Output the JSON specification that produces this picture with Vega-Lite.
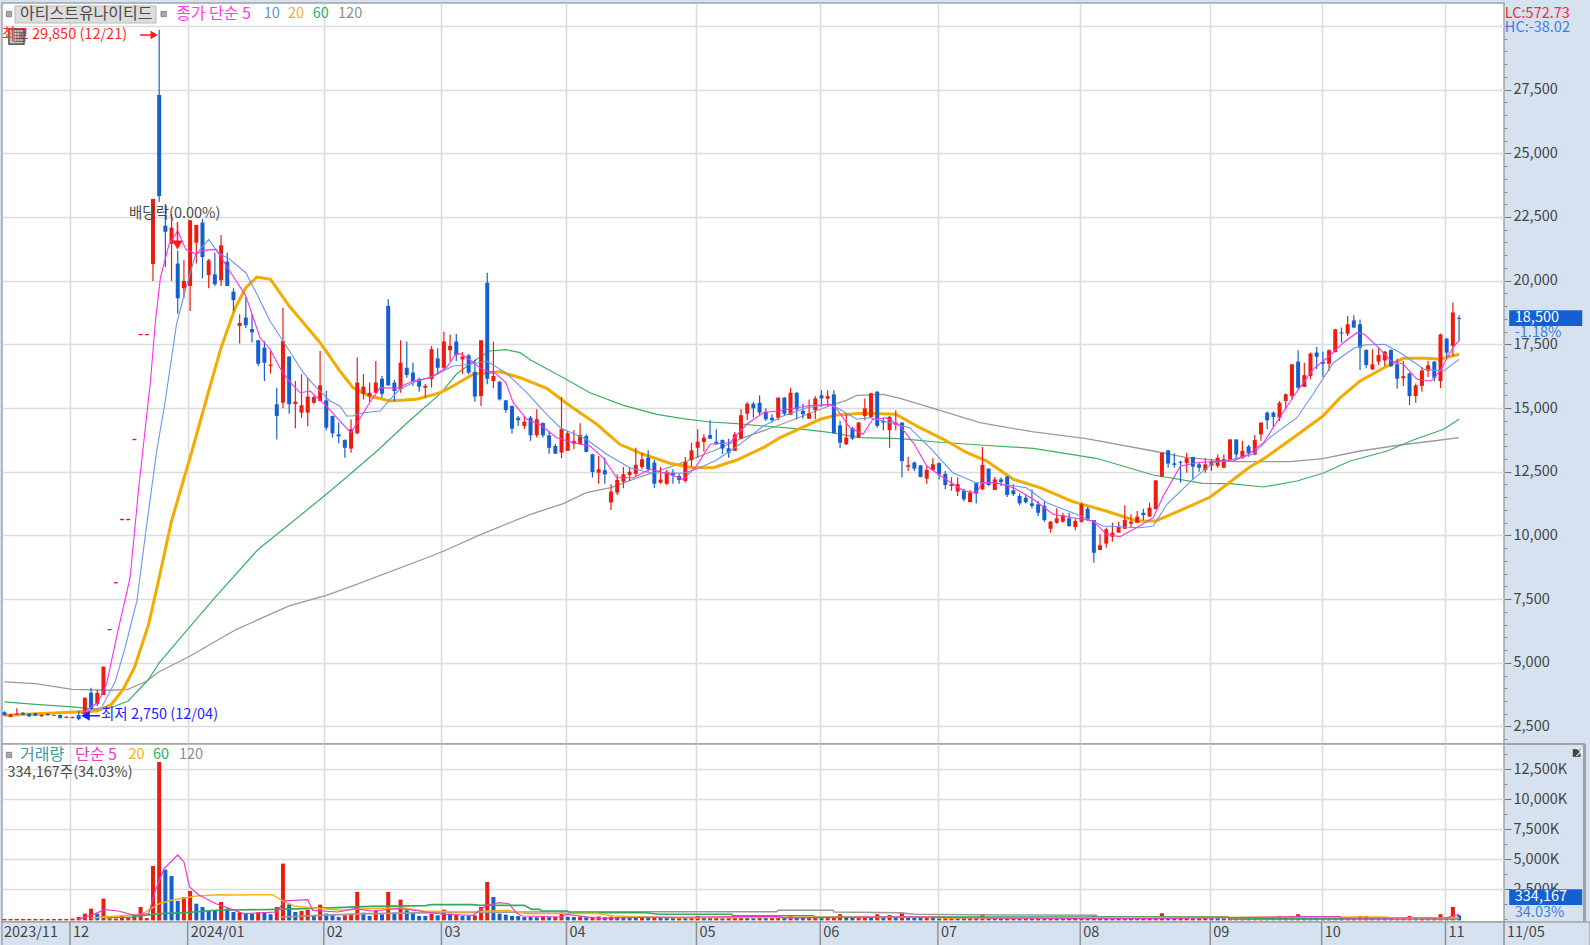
{"$schema":"https://vega.github.io/schema/vega-lite/v6.json","background":"#d6e2f0","padding":{"left":-3,"top":2,"right":0,"bottom":0},"spacing":0,"bounds":"flush","config":{"view":{"stroke":"#a3a3a3","strokeWidth":1.5,"fill":"#ffffff"},"text":{"font":"Liberation Sans Narrow, Noto Sans CJK KR"},"axis":{"labelFont":"Liberation Sans Narrow, Noto Sans CJK KR"}},
"datasets":{
"days":[
{"i":-11,"o":3060,"h":3100,"l":2920,"c":2940,"d":"down","k":30,"vd":"up"},{"i":-10,"o":2880,"h":2990,"l":2860,"c":2970,"d":"up","k":30,"vd":"up"},{"i":-9,"o":2960,"h":3220,"l":2950,"c":3000,"d":"up","k":40,"vd":"up"},{"i":-8,"o":3040,"h":3060,"l":2950,"c":2970,"d":"down","k":30,"vd":"up"},{"i":-7,"o":3000,"h":3020,"l":2860,"c":2900,"d":"down","k":30,"vd":"up"},{"i":-6,"o":3020,"h":3040,"l":2910,"c":2920,"d":"down","k":30,"vd":"up"},{"i":-5,"o":2900,"h":2980,"l":2880,"c":2960,"d":"up","k":25,"vd":"up"},{"i":-4,"o":3000,"h":3010,"l":2930,"c":2940,"d":"down","k":25,"vd":"up"},{"i":-3,"o":2920,"h":2970,"l":2910,"c":2950,"d":"up","k":25,"vd":"up"},{"i":-2,"o":2950,"h":2970,"l":2810,"c":2830,"d":"down","k":30,"vd":"up"},{"i":-1,"o":2840,"h":2900,"l":2820,"c":2880,"d":"up","k":30,"vd":"up"},{"i":0,"o":2830,"h":2890,"l":2820,"c":2870,"d":"up","k":60,"vd":"up"},
{"i":1,"o":2950,"h":3120,"l":2750,"c":2790,"d":"down","k":195,"vd":"up"},{"i":2,"o":2990,"h":3630,"l":2950,"c":3630,"d":"up","k":470,"vd":"up"},{"i":3,"o":3830,"h":4020,"l":3150,"c":3190,"d":"down","k":890,"vd":"up"},{"i":4,"o":3380,"h":3940,"l":3300,"c":3820,"d":"up","k":470,"vd":"down"},{"i":5,"o":3740,"h":4850,"l":3740,"c":4850,"d":"up","k":1720,"vd":"up"},{"i":6,"o":6280,"h":6330,"l":6280,"c":6330,"d":"up","k":80,"vd":"up"},{"i":7,"o":8120,"h":8170,"l":8120,"c":8170,"d":"up","k":60,"vd":"up"},{"i":8,"o":10600,"h":10650,"l":10600,"c":10650,"d":"up","k":330,"vd":"up"},{"i":9,"o":10600,"h":10650,"l":10600,"c":10650,"d":"up","k":130,"vd":"up"},{"i":10,"o":13740,"h":13790,"l":13740,"c":13790,"d":"up","k":416,"vd":"up"},{"i":11,"o":17860,"h":17910,"l":17860,"c":17910,"d":"up","k":1030,"vd":"up"},{"i":12,"o":17860,"h":17910,"l":17860,"c":17910,"d":"up","k":100,"vd":"up"},{"i":13,"o":20650,"h":23210,"l":19990,"c":23210,"d":"up","k":4440,"vd":"up"},{"i":14,"o":27290,"h":29850,"l":23090,"c":23320,"d":"down","k":13110,"vd":"up"},{"i":15,"o":22160,"h":23010,"l":20540,"c":21920,"d":"down","k":4140,"vd":"down"},{"i":16,"o":21450,"h":22620,"l":19990,"c":22080,"d":"up","k":3610,"vd":"down"},{"i":17,"o":20670,"h":21170,"l":18700,"c":19310,"d":"down","k":1530,"vd":"down"},{"i":18,"o":19700,"h":20800,"l":19310,"c":19990,"d":"up","k":1860,"vd":"up"},{"i":19,"o":19790,"h":22370,"l":18810,"c":22370,"d":"up","k":2360,"vd":"up"},{"i":20,"o":21490,"h":22190,"l":20670,"c":22190,"d":"up","k":1300,"vd":"down"},{"i":21,"o":22280,"h":22420,"l":20090,"c":20930,"d":"down","k":1030,"vd":"down"},{"i":22,"o":20220,"h":20850,"l":19700,"c":20800,"d":"up","k":690,"vd":"down"},{"i":23,"o":20250,"h":21100,"l":19790,"c":19860,"d":"down","k":690,"vd":"down"},{"i":24,"o":20020,"h":21790,"l":19790,"c":21390,"d":"up","k":1440,"vd":"up"},{"i":25,"o":20750,"h":21100,"l":19790,"c":19790,"d":"down","k":890,"vd":"down"},{"i":26,"o":19570,"h":19700,"l":18810,"c":19240,"d":"down","k":610,"vd":"down"},{"i":27,"o":18220,"h":18680,"l":17530,"c":18340,"d":"up","k":580,"vd":"up"},{"i":28,"o":18550,"h":19360,"l":18130,"c":18250,"d":"down","k":470,"vd":"down"},{"i":29,"o":18100,"h":18680,"l":17570,"c":17970,"d":"down","k":470,"vd":"down"},{"i":30,"o":17660,"h":17660,"l":16650,"c":16740,"d":"down","k":580,"vd":"up"},{"i":31,"o":17370,"h":17630,"l":16060,"c":16780,"d":"down","k":610,"vd":"down"},{"i":32,"o":16650,"h":17240,"l":16350,"c":16700,"d":"up","k":420,"vd":"down"},{"i":33,"o":15150,"h":15800,"l":13770,"c":14690,"d":"down","k":1030,"vd":"up"},{"i":34,"o":15210,"h":18940,"l":14990,"c":17630,"d":"up","k":4640,"vd":"up"},{"i":35,"o":17020,"h":17030,"l":14780,"c":15150,"d":"down","k":1250,"vd":"down"},{"i":36,"o":15160,"h":16060,"l":14210,"c":15250,"d":"up","k":610,"vd":"down"},{"i":37,"o":14820,"h":16330,"l":14620,"c":15110,"d":"up","k":690,"vd":"up"},{"i":38,"o":14820,"h":16190,"l":14300,"c":15450,"d":"up","k":800,"vd":"up"},{"i":39,"o":15210,"h":15500,"l":15150,"c":15430,"d":"up","k":280,"vd":"down"},{"i":40,"o":15280,"h":17240,"l":15280,"c":15890,"d":"up","k":1220,"vd":"up"},
{"i":41,"o":15300,"h":15670,"l":14130,"c":14230,"d":"down","k":470,"vd":"down"},{"i":42,"o":14690,"h":14700,"l":13840,"c":14010,"d":"down","k":420,"vd":"down"},{"i":43,"o":13970,"h":14430,"l":13620,"c":13890,"d":"down","k":190,"vd":"down"},{"i":44,"o":13750,"h":13770,"l":13050,"c":13440,"d":"down","k":330,"vd":"up"},{"i":45,"o":13410,"h":14560,"l":13250,"c":14170,"d":"up","k":470,"vd":"up"},{"i":46,"o":14010,"h":16980,"l":13970,"c":16000,"d":"up","k":2280,"vd":"up"},{"i":47,"o":15560,"h":16330,"l":15340,"c":15840,"d":"up","k":555,"vd":"down"},{"i":48,"o":15470,"h":16000,"l":15250,"c":15600,"d":"up","k":280,"vd":"down"},{"i":49,"o":15600,"h":16850,"l":15600,"c":16000,"d":"up","k":690,"vd":"up"},{"i":50,"o":16150,"h":16260,"l":15410,"c":15560,"d":"down","k":420,"vd":"down"},{"i":51,"o":19010,"h":19270,"l":15880,"c":15890,"d":"down","k":2280,"vd":"up"},{"i":52,"o":16000,"h":16100,"l":15280,"c":15670,"d":"down","k":555,"vd":"down"},{"i":53,"o":15740,"h":17660,"l":15600,"c":16780,"d":"up","k":1640,"vd":"up"},{"i":54,"o":16580,"h":17610,"l":16190,"c":16300,"d":"down","k":750,"vd":"down"},{"i":55,"o":16390,"h":16780,"l":15870,"c":16040,"d":"down","k":530,"vd":"down"},{"i":56,"o":16130,"h":16190,"l":15640,"c":15840,"d":"down","k":280,"vd":"down"},{"i":57,"o":15800,"h":15940,"l":15400,"c":15870,"d":"up","k":280,"vd":"down"},{"i":58,"o":16130,"h":17440,"l":15800,"c":17310,"d":"up","k":470,"vd":"up"},{"i":59,"o":16950,"h":17350,"l":16330,"c":16580,"d":"down","k":330,"vd":"down"},
{"i":60,"o":16580,"h":18000,"l":16460,"c":17610,"d":"up","k":800,"vd":"up"},{"i":61,"o":17270,"h":17890,"l":16850,"c":17440,"d":"up","k":470,"vd":"down"},{"i":62,"o":17610,"h":17920,"l":16850,"c":17080,"d":"down","k":390,"vd":"up"},{"i":63,"o":16910,"h":17200,"l":16330,"c":17020,"d":"up","k":280,"vd":"down"},{"i":64,"o":17070,"h":17120,"l":16330,"c":16390,"d":"down","k":280,"vd":"down"},{"i":65,"o":16420,"h":16910,"l":15250,"c":15450,"d":"down","k":330,"vd":"up"},{"i":66,"o":15470,"h":17660,"l":15080,"c":17660,"d":"up","k":1030,"vd":"up"},{"i":67,"o":19920,"h":20310,"l":15930,"c":16150,"d":"down","k":3110,"vd":"up"},{"i":68,"o":16060,"h":17610,"l":15780,"c":16260,"d":"up","k":1860,"vd":"down"},{"i":69,"o":16040,"h":16050,"l":15300,"c":15340,"d":"down","k":470,"vd":"down"},{"i":70,"o":15300,"h":15320,"l":14820,"c":14920,"d":"down","k":390,"vd":"down"},{"i":71,"o":15080,"h":15100,"l":13990,"c":14190,"d":"down","k":280,"vd":"down"},{"i":72,"o":14620,"h":14690,"l":14300,"c":14520,"d":"down","k":280,"vd":"down"},{"i":73,"o":14300,"h":14690,"l":14190,"c":14460,"d":"up","k":190,"vd":"down"},{"i":74,"o":14620,"h":14690,"l":13710,"c":13930,"d":"down","k":190,"vd":"down"},{"i":75,"o":13930,"h":14950,"l":13840,"c":14560,"d":"up","k":170,"vd":"down"},{"i":76,"o":14410,"h":14430,"l":13840,"c":13930,"d":"down","k":200,"vd":"up"},{"i":77,"o":13930,"h":14100,"l":13210,"c":13440,"d":"down","k":180,"vd":"down"},{"i":78,"o":13510,"h":13600,"l":13200,"c":13210,"d":"down","k":210,"vd":"up"},{"i":79,"o":13250,"h":15430,"l":13030,"c":14170,"d":"up","k":555,"vd":"up"},
{"i":80,"o":13320,"h":14100,"l":13320,"c":14010,"d":"up","k":220,"vd":"down"},{"i":81,"o":13600,"h":14130,"l":13380,"c":13710,"d":"up","k":190,"vd":"down"},{"i":82,"o":13580,"h":14400,"l":13580,"c":13940,"d":"up","k":210,"vd":"up"},{"i":83,"o":13900,"h":13970,"l":13270,"c":13280,"d":"down","k":170,"vd":"down"},{"i":84,"o":13190,"h":13190,"l":12270,"c":12490,"d":"down","k":200,"vd":"up"},{"i":85,"o":12460,"h":13120,"l":12030,"c":12600,"d":"up","k":230,"vd":"up"},{"i":86,"o":12560,"h":13050,"l":12030,"c":12400,"d":"down","k":180,"vd":"down"},{"i":87,"o":11290,"h":12010,"l":11000,"c":11720,"d":"up","k":220,"vd":"up"},{"i":88,"o":11680,"h":12400,"l":11590,"c":12180,"d":"up","k":200,"vd":"down"},{"i":89,"o":12110,"h":12690,"l":11850,"c":12400,"d":"up","k":190,"vd":"down"},{"i":90,"o":12370,"h":12690,"l":12140,"c":12500,"d":"up","k":170,"vd":"down"},{"i":91,"o":12420,"h":13440,"l":12330,"c":12770,"d":"up","k":150,"vd":"down"},{"i":92,"o":12690,"h":13250,"l":12600,"c":12990,"d":"up","k":190,"vd":"up"},{"i":93,"o":13050,"h":13340,"l":12500,"c":12600,"d":"down","k":130,"vd":"down"},{"i":94,"o":12860,"h":12960,"l":11870,"c":12030,"d":"down","k":170,"vd":"up"},{"i":95,"o":12070,"h":12690,"l":12030,"c":12190,"d":"up","k":150,"vd":"down"},{"i":96,"o":12030,"h":12570,"l":11980,"c":12500,"d":"up","k":140,"vd":"down"},{"i":97,"o":12460,"h":12600,"l":12030,"c":12360,"d":"down","k":110,"vd":"down"},{"i":98,"o":12330,"h":12410,"l":12030,"c":12180,"d":"down","k":130,"vd":"up"},{"i":99,"o":12140,"h":13080,"l":12070,"c":12880,"d":"up","k":120,"vd":"down"},{"i":100,"o":12960,"h":13640,"l":12690,"c":13340,"d":"up","k":140,"vd":"up"},
{"i":101,"o":13440,"h":14170,"l":13050,"c":13680,"d":"up","k":280,"vd":"up"},{"i":102,"o":13670,"h":13970,"l":13280,"c":13840,"d":"up","k":120,"vd":"down"},{"i":103,"o":13940,"h":14520,"l":13790,"c":13800,"d":"down","k":100,"vd":"down"},{"i":104,"o":13680,"h":14170,"l":13570,"c":13580,"d":"down","k":120,"vd":"up"},{"i":105,"o":13750,"h":13760,"l":13190,"c":13410,"d":"down","k":90,"vd":"down"},{"i":106,"o":13420,"h":13800,"l":13050,"c":13250,"d":"down","k":110,"vd":"up"},{"i":107,"o":13320,"h":14060,"l":13320,"c":13970,"d":"up","k":120,"vd":"up"},{"i":108,"o":13800,"h":14950,"l":13800,"c":14720,"d":"up","k":330,"vd":"up"},{"i":109,"o":14780,"h":15240,"l":14530,"c":15170,"d":"up","k":110,"vd":"down"},{"i":110,"o":15170,"h":15240,"l":14620,"c":14990,"d":"down","k":90,"vd":"down"},{"i":111,"o":15210,"h":15500,"l":14720,"c":14820,"d":"down","k":120,"vd":"up"},{"i":112,"o":14860,"h":14990,"l":14490,"c":14560,"d":"down","k":100,"vd":"down"},{"i":113,"o":14620,"h":14760,"l":14430,"c":14530,"d":"down","k":120,"vd":"up"},{"i":114,"o":14620,"h":15410,"l":14520,"c":15410,"d":"up","k":330,"vd":"up"},{"i":115,"o":15410,"h":15430,"l":14730,"c":14780,"d":"down","k":120,"vd":"down"},{"i":116,"o":14730,"h":15800,"l":14730,"c":15600,"d":"up","k":330,"vd":"up"},{"i":117,"o":15600,"h":15620,"l":14560,"c":14950,"d":"down","k":130,"vd":"down"},{"i":118,"o":14890,"h":15170,"l":14580,"c":14760,"d":"down","k":110,"vd":"down"},{"i":119,"o":14580,"h":15340,"l":14580,"c":14790,"d":"up","k":120,"vd":"up"},{"i":120,"o":14920,"h":15470,"l":14560,"c":15380,"d":"up","k":130,"vd":"up"},
{"i":121,"o":15500,"h":15700,"l":15050,"c":15380,"d":"down","k":100,"vd":"down"},{"i":122,"o":15370,"h":15700,"l":15050,"c":15470,"d":"up","k":130,"vd":"up"},{"i":123,"o":15540,"h":15700,"l":14000,"c":14010,"d":"down","k":140,"vd":"up"},{"i":124,"o":14320,"h":14490,"l":13420,"c":13640,"d":"down","k":420,"vd":"up"},{"i":125,"o":13580,"h":14760,"l":13550,"c":13840,"d":"up","k":140,"vd":"down"},{"i":126,"o":14210,"h":14260,"l":13750,"c":13800,"d":"down","k":120,"vd":"down"},{"i":127,"o":13840,"h":14450,"l":13840,"c":14430,"d":"up","k":170,"vd":"up"},{"i":128,"o":14690,"h":15380,"l":14520,"c":14990,"d":"up","k":190,"vd":"up"},{"i":129,"o":14650,"h":15600,"l":14600,"c":15580,"d":"up","k":170,"vd":"down"},{"i":130,"o":15640,"h":15670,"l":14230,"c":14300,"d":"down","k":420,"vd":"up"},{"i":131,"o":14490,"h":14620,"l":14130,"c":14430,"d":"down","k":150,"vd":"down"},{"i":132,"o":14130,"h":14680,"l":13440,"c":14660,"d":"up","k":360,"vd":"up"},{"i":133,"o":14340,"h":14910,"l":14130,"c":14430,"d":"up","k":180,"vd":"down"},{"i":134,"o":14430,"h":14440,"l":12270,"c":12920,"d":"down","k":550,"vd":"up"},{"i":135,"o":12690,"h":13090,"l":12530,"c":12750,"d":"up","k":200,"vd":"down"},{"i":136,"o":12860,"h":12900,"l":12530,"c":12620,"d":"down","k":160,"vd":"down"},{"i":137,"o":12750,"h":12760,"l":12290,"c":12290,"d":"down","k":130,"vd":"down"},{"i":138,"o":12230,"h":12730,"l":12030,"c":12570,"d":"up","k":150,"vd":"up"},{"i":139,"o":12570,"h":13030,"l":12530,"c":12790,"d":"up","k":120,"vd":"down"},
{"i":140,"o":12840,"h":12860,"l":12200,"c":12400,"d":"down","k":100,"vd":"down"},{"i":141,"o":12420,"h":12530,"l":11810,"c":11980,"d":"down","k":130,"vd":"up"},{"i":142,"o":11940,"h":12290,"l":11750,"c":12010,"d":"up","k":140,"vd":"up"},{"i":143,"o":11720,"h":12270,"l":11550,"c":12010,"d":"up","k":110,"vd":"down"},{"i":144,"o":11770,"h":11830,"l":11330,"c":11420,"d":"down","k":90,"vd":"down"},{"i":145,"o":11310,"h":11770,"l":11290,"c":11680,"d":"up","k":120,"vd":"up"},{"i":146,"o":12050,"h":12070,"l":11250,"c":11640,"d":"down","k":100,"vd":"down"},{"i":147,"o":11810,"h":13470,"l":11770,"c":12770,"d":"up","k":420,"vd":"up"},{"i":148,"o":12620,"h":12640,"l":11940,"c":11980,"d":"down","k":130,"vd":"down"},{"i":149,"o":11780,"h":12290,"l":11780,"c":12200,"d":"up","k":120,"vd":"down"},{"i":150,"o":12200,"h":12270,"l":11940,"c":12100,"d":"down","k":90,"vd":"down"},{"i":151,"o":12310,"h":12330,"l":11510,"c":11590,"d":"down","k":110,"vd":"up"},{"i":152,"o":11770,"h":12010,"l":11550,"c":11620,"d":"down","k":90,"vd":"down"},{"i":153,"o":11550,"h":11650,"l":11180,"c":11260,"d":"down","k":80,"vd":"down"},{"i":154,"o":11480,"h":11620,"l":11250,"c":11310,"d":"down","k":100,"vd":"up"},{"i":155,"o":11260,"h":11810,"l":11070,"c":11160,"d":"down","k":80,"vd":"down"},{"i":156,"o":11220,"h":11350,"l":10760,"c":10890,"d":"down","k":110,"vd":"up"},{"i":157,"o":11160,"h":11330,"l":10540,"c":10600,"d":"down","k":90,"vd":"down"},{"i":158,"o":10260,"h":10570,"l":10110,"c":10540,"d":"up","k":120,"vd":"up"},{"i":159,"o":10500,"h":11070,"l":10460,"c":10670,"d":"up","k":100,"vd":"down"},{"i":160,"o":10540,"h":10890,"l":10500,"c":10790,"d":"up","k":80,"vd":"down"},{"i":161,"o":10670,"h":10890,"l":10340,"c":10370,"d":"down","k":110,"vd":"up"},{"i":162,"o":10330,"h":10660,"l":10200,"c":10570,"d":"up","k":90,"vd":"down"},
{"i":163,"o":10540,"h":11290,"l":10500,"c":11220,"d":"up","k":120,"vd":"up"},{"i":164,"o":11050,"h":11120,"l":10570,"c":10630,"d":"down","k":100,"vd":"down"},{"i":165,"o":10600,"h":10610,"l":8930,"c":9320,"d":"down","k":360,"vd":"up"},{"i":166,"o":9430,"h":10050,"l":9430,"c":9610,"d":"up","k":130,"vd":"down"},{"i":167,"o":9680,"h":10310,"l":9520,"c":10240,"d":"up","k":110,"vd":"down"},{"i":168,"o":9950,"h":10500,"l":9760,"c":10110,"d":"up","k":90,"vd":"down"},{"i":169,"o":10110,"h":10540,"l":10110,"c":10340,"d":"up","k":80,"vd":"down"},{"i":170,"o":10260,"h":11180,"l":10260,"c":10610,"d":"up","k":100,"vd":"up"},{"i":171,"o":10460,"h":10830,"l":10280,"c":10540,"d":"up","k":80,"vd":"down"},{"i":172,"o":10500,"h":10960,"l":10500,"c":10740,"d":"up","k":70,"vd":"down"},{"i":173,"o":10890,"h":11050,"l":10600,"c":10800,"d":"down","k":90,"vd":"up"},{"i":174,"o":10740,"h":11290,"l":10740,"c":11090,"d":"up","k":100,"vd":"up"},{"i":175,"o":11030,"h":12180,"l":11030,"c":12160,"d":"up","k":120,"vd":"up"},{"i":176,"o":12310,"h":13270,"l":12310,"c":13250,"d":"up","k":500,"vd":"up"},{"i":177,"o":13340,"h":13350,"l":12660,"c":12820,"d":"down","k":130,"vd":"down"},{"i":178,"o":12830,"h":13230,"l":12660,"c":12770,"d":"down","k":100,"vd":"down"},{"i":179,"o":12890,"h":12930,"l":12070,"c":12850,"d":"down","k":110,"vd":"up"},{"i":180,"o":12840,"h":13250,"l":12460,"c":13030,"d":"up","k":110,"vd":"up"},{"i":181,"o":13080,"h":13090,"l":12200,"c":12700,"d":"down","k":80,"vd":"down"},{"i":182,"o":12790,"h":12850,"l":12500,"c":12660,"d":"down","k":100,"vd":"up"},{"i":183,"o":12570,"h":13030,"l":12460,"c":12790,"d":"up","k":120,"vd":"up"},
{"i":184,"o":12740,"h":12990,"l":12530,"c":12900,"d":"up","k":100,"vd":"down"},{"i":185,"o":12730,"h":13180,"l":12660,"c":13050,"d":"up","k":90,"vd":"down"},{"i":186,"o":12660,"h":13180,"l":12640,"c":12990,"d":"up","k":80,"vd":"down"},{"i":187,"o":12950,"h":13770,"l":12920,"c":13770,"d":"up","k":100,"vd":"up"},{"i":188,"o":13770,"h":13770,"l":12990,"c":13180,"d":"down","k":80,"vd":"down"},{"i":189,"o":13050,"h":13710,"l":13010,"c":13320,"d":"up","k":90,"vd":"up"},{"i":190,"o":13490,"h":13550,"l":13090,"c":13220,"d":"down","k":70,"vd":"down"},{"i":191,"o":13180,"h":13940,"l":13150,"c":13750,"d":"up","k":90,"vd":"up"},{"i":192,"o":13970,"h":14430,"l":13710,"c":14430,"d":"up","k":110,"vd":"up"},{"i":193,"o":14820,"h":14860,"l":14170,"c":14520,"d":"down","k":90,"vd":"down"},{"i":194,"o":14820,"h":14860,"l":14260,"c":14650,"d":"down","k":70,"vd":"down"},{"i":195,"o":14620,"h":15280,"l":14490,"c":15210,"d":"up","k":280,"vd":"up"},{"i":196,"o":15280,"h":15570,"l":14950,"c":15540,"d":"up","k":120,"vd":"down"},{"i":197,"o":15470,"h":16720,"l":15340,"c":16720,"d":"up","k":280,"vd":"up"},{"i":198,"o":16820,"h":17270,"l":15740,"c":15800,"d":"down","k":420,"vd":"up"},{"i":199,"o":15830,"h":16780,"l":15830,"c":16290,"d":"up","k":130,"vd":"down"},{"i":200,"o":16260,"h":17180,"l":16130,"c":17140,"d":"up","k":120,"vd":"down"},{"i":201,"o":17180,"h":17400,"l":16520,"c":17010,"d":"down","k":90,"vd":"down"},
{"i":202,"o":16820,"h":17210,"l":16220,"c":16740,"d":"down","k":100,"vd":"up"},{"i":203,"o":16740,"h":17310,"l":16460,"c":17270,"d":"up","k":110,"vd":"up"},{"i":204,"o":17200,"h":18110,"l":17180,"c":18090,"d":"up","k":90,"vd":"down"},{"i":205,"o":17970,"h":18160,"l":17570,"c":17930,"d":"down","k":70,"vd":"down"},{"i":206,"o":17920,"h":18610,"l":17830,"c":18290,"d":"up","k":100,"vd":"up"},{"i":207,"o":18440,"h":18640,"l":18150,"c":18160,"d":"down","k":80,"vd":"down"},{"i":208,"o":18290,"h":18480,"l":16490,"c":17370,"d":"down","k":280,"vd":"up"},{"i":209,"o":17280,"h":17310,"l":16560,"c":16690,"d":"down","k":280,"vd":"up"},{"i":210,"o":16520,"h":17310,"l":16490,"c":16720,"d":"up","k":100,"vd":"down"},{"i":211,"o":16820,"h":17350,"l":16690,"c":17080,"d":"up","k":80,"vd":"down"},{"i":212,"o":16870,"h":17240,"l":16650,"c":17210,"d":"up","k":100,"vd":"up"},{"i":213,"o":17280,"h":17310,"l":16610,"c":16650,"d":"down","k":80,"vd":"down"},{"i":214,"o":16720,"h":16940,"l":15760,"c":16150,"d":"down","k":100,"vd":"up"},{"i":215,"o":16170,"h":16850,"l":15870,"c":16250,"d":"up","k":110,"vd":"up"},{"i":216,"o":16360,"h":16390,"l":15120,"c":15470,"d":"down","k":280,"vd":"up"},{"i":217,"o":15470,"h":15960,"l":15210,"c":15890,"d":"up","k":100,"vd":"down"},{"i":218,"o":15870,"h":16610,"l":15640,"c":16480,"d":"up","k":110,"vd":"up"},{"i":219,"o":16460,"h":16850,"l":16220,"c":16680,"d":"up","k":90,"vd":"down"},{"i":220,"o":16820,"h":16850,"l":16040,"c":16190,"d":"down","k":100,"vd":"up"},
{"i":221,"o":16060,"h":17920,"l":15780,"c":17890,"d":"up","k":420,"vd":"up"},{"i":222,"o":17720,"h":17760,"l":16980,"c":17180,"d":"down","k":150,"vd":"down"},{"i":223,"o":17440,"h":19140,"l":17040,"c":18750,"d":"up","k":1030,"vd":"up"},{"i":224,"o":18540,"h":18640,"l":17640,"c":18500,"d":"down","k":334,"vd":"down"}],
"ma5":[{"i":1.4,"v":3000},{"i":4.1,"v":3435},{"i":5.5,"v":4170},{"i":7.4,"v":6320},{"i":9.3,"v":8340},{"i":10.7,"v":11870},{"i":12.6,"v":16060},{"i":13.4,"v":18420},{"i":14.2,"v":20120},{"i":15.6,"v":21430},{"i":17,"v":21950},{"i":18.3,"v":21230},{"i":20,"v":21035},{"i":21,"v":21190},{"i":23.2,"v":21230},{"i":25.4,"v":20380},{"i":28,"v":19400},{"i":30.3,"v":17760},{"i":31.9,"v":17320},{"i":33.5,"v":16580},{"i":35,"v":16060},{"i":36.8,"v":15600},{"i":38.4,"v":15670},{"i":41,"v":15080},{"i":43.2,"v":14490},{"i":45,"v":14030},{"i":46,"v":14425},{"i":48,"v":15210},{"i":49.7,"v":15800},{"i":52.4,"v":15775},{"i":55,"v":16060},{"i":57.8,"v":16190},{"i":60.4,"v":16580},{"i":61.8,"v":17083},{"i":62.6,"v":17134},{"i":63.7,"v":16977},{"i":66.3,"v":16500},{"i":68.2,"v":16388},{"i":70,"v":16000},{"i":71.2,"v":15210},{"i":73.4,"v":14558},{"i":75.5,"v":14363},{"i":78.2,"v":13837},{"i":80.9,"v":13640},{"i":83.6,"v":13511},{"i":85.7,"v":13052},{"i":87.9,"v":12266},{"i":90.6,"v":12266},{"i":93.3,"v":12596},{"i":96.5,"v":12400},{"i":98.6,"v":12203},{"i":100.8,"v":12724},{"i":103,"v":13577},{"i":106.2,"v":13640},{"i":108.9,"v":14363},{"i":111.6,"v":14818},{"i":113.8,"v":14884},{"i":115.9,"v":14951},{"i":118.6,"v":15081},{"i":122.4,"v":15148},{"i":123.5,"v":14951},{"i":125.6,"v":14229},{"i":127.7,"v":13970},{"i":129.3,"v":14559},{"i":131.5,"v":14621},{"i":133.7,"v":14296},{"i":136,"v":13577},{"i":138,"v":12724},{"i":140.7,"v":12266},{"i":144,"v":11745},{"i":146,"v":11678},{"i":147,"v":12070},{"i":149.3,"v":12070},{"i":152,"v":11874},{"i":155.2,"v":11418},{"i":158.4,"v":10830},{"i":161.6,"v":10696},{"i":164.9,"v":10567},{"i":167,"v":10045},{"i":169.2,"v":9951},{"i":171.9,"v":10304},{"i":174.6,"v":10696},{"i":176.2,"v":11548},{"i":179,"v":12724},{"i":181.6,"v":12856},{"i":185.4,"v":12922},{"i":187.5,"v":12922},{"i":190,"v":13186},{"i":192.4,"v":13640},{"i":195,"v":14621},{"i":197.5,"v":15540},{"i":200.4,"v":16519},{"i":203.1,"v":17054},{"i":205.3,"v":17566},{"i":207.5,"v":17958},{"i":208.7,"v":17895},{"i":211,"v":17369},{"i":213,"v":16847},{"i":215,"v":16717},{"i":217.2,"v":16128},{"i":219.5,"v":16062},{"i":220.9,"v":16455},{"i":223,"v":17369},{"i":224,"v":17660}],
"ma10":[{"i":1.4,"v":3050},{"i":4.7,"v":3240},{"i":6.9,"v":4262},{"i":8.5,"v":5594},{"i":10.4,"v":7427},{"i":12,"v":10437},{"i":13.6,"v":13314},{"i":14.9,"v":15148},{"i":16.8,"v":18289},{"i":18.2,"v":19595},{"i":19.8,"v":20968},{"i":20.6,"v":21232},{"i":22,"v":21624},{"i":23.5,"v":21098},{"i":25.4,"v":20838},{"i":28,"v":20313},{"i":29.8,"v":19465},{"i":31.9,"v":18417},{"i":34,"v":17632},{"i":37.3,"v":16388},{"i":38.9,"v":15933},{"i":41.6,"v":15277},{"i":43.2,"v":15081},{"i":44.3,"v":14688},{"i":45.3,"v":14688},{"i":47,"v":14818},{"i":49.7,"v":14884},{"i":51.3,"v":15344},{"i":52.9,"v":15736},{"i":55,"v":15995},{"i":58.3,"v":16258},{"i":61.5,"v":16651},{"i":64.2,"v":16717},{"i":66.9,"v":16847},{"i":70,"v":16388},{"i":73.4,"v":15603},{"i":76.6,"v":14755},{"i":78.8,"v":14229},{"i":83,"v":13774},{"i":86.3,"v":13186},{"i":90,"v":12659},{"i":93.3,"v":12463},{"i":98.6,"v":12439},{"i":100.8,"v":12596},{"i":104,"v":12950},{"i":107.8,"v":13577},{"i":111.6,"v":14296},{"i":114.8,"v":14688},{"i":118.6,"v":15014},{"i":122.4,"v":15148},{"i":123.5,"v":15014},{"i":126.7,"v":14559},{"i":128.8,"v":14621},{"i":131,"v":14492},{"i":135.2,"v":14229},{"i":138.5,"v":13444},{"i":142.2,"v":12463},{"i":146,"v":12070},{"i":148.7,"v":12070},{"i":154.1,"v":11874},{"i":157.4,"v":11286},{"i":162.2,"v":10830},{"i":166.5,"v":10370},{"i":172.5,"v":10304},{"i":174.6,"v":10370},{"i":176.8,"v":11223},{"i":181,"v":12203},{"i":184.3,"v":12856},{"i":187.5,"v":12987},{"i":190.7,"v":13186},{"i":193.4,"v":13837},{"i":197.8,"v":14621},{"i":200.4,"v":15540},{"i":203.7,"v":16780},{"i":207,"v":17345},{"i":208.7,"v":17475},{"i":212,"v":17502},{"i":214.5,"v":17174},{"i":218.4,"v":16519},{"i":221.5,"v":16455},{"i":224,"v":16913}],
"ma20":[{"i":-11,"v":2940},{"i":4,"v":3110},{"i":6.3,"v":3372},{"i":8.2,"v":3961},{"i":10,"v":4810},{"i":12.3,"v":6512},{"i":14,"v":8341},{"i":16,"v":10567},{"i":19.3,"v":13314},{"i":22,"v":15670},{"i":24,"v":17369},{"i":26.3,"v":18939},{"i":28,"v":19724},{"i":29.8,"v":20144},{"i":32,"v":20054},{"i":35,"v":19006},{"i":37.3,"v":18350},{"i":40,"v":17566},{"i":43.2,"v":16455},{"i":45.3,"v":15800},{"i":48,"v":15473},{"i":51.3,"v":15277},{"i":55.6,"v":15344},{"i":59.4,"v":15603},{"i":61,"v":15800},{"i":64.7,"v":16325},{"i":69,"v":16428},{"i":72.3,"v":16192},{"i":76.6,"v":15775},{"i":80.4,"v":15081},{"i":84.7,"v":14363},{"i":88.4,"v":13577},{"i":92.2,"v":13186},{"i":96.5,"v":12832},{"i":100.2,"v":12659},{"i":103.5,"v":12659},{"i":107.3,"v":12961},{"i":111.6,"v":13444},{"i":114.3,"v":13837},{"i":117.5,"v":14190},{"i":120.8,"v":14559},{"i":123.5,"v":14727},{"i":127.7,"v":14794},{"i":133,"v":14755},{"i":136.9,"v":14229},{"i":140.7,"v":13774},{"i":144.5,"v":13248},{"i":147.7,"v":12922},{"i":152,"v":12203},{"i":156.3,"v":11874},{"i":161.6,"v":11325},{"i":167,"v":10960},{"i":171.9,"v":10567},{"i":175,"v":10567},{"i":180,"v":11089},{"i":183.8,"v":11509},{"i":185.4,"v":11800},{"i":190,"v":12659},{"i":192.7,"v":13052},{"i":198,"v":13970},{"i":202,"v":14688},{"i":204.8,"v":15407},{"i":208,"v":16062},{"i":212.4,"v":16650},{"i":215,"v":16953},{"i":218.8,"v":16953},{"i":220.9,"v":16913},{"i":224,"v":17110}],
"ma60":[{"i":-11,"v":3463},{"i":-6,"v":3372},{"i":0,"v":3267},{"i":4,"v":3176},{"i":6.5,"v":3267},{"i":9,"v":3502},{"i":12.3,"v":4354},{"i":14,"v":5000},{"i":18.6,"v":6316},{"i":23,"v":7557},{"i":30,"v":9457},{"i":34.7,"v":10370},{"i":41,"v":11616},{"i":44.5,"v":12334},{"i":49.5,"v":13381},{"i":53.8,"v":14363},{"i":59.6,"v":15603},{"i":62,"v":16325},{"i":65.3,"v":16913},{"i":67.4,"v":17240},{"i":70,"v":17290},{"i":72.3,"v":17174},{"i":74,"v":16886},{"i":79.3,"v":16192},{"i":83.6,"v":15603},{"i":89,"v":15108},{"i":94.4,"v":14755},{"i":98.6,"v":14583},{"i":103,"v":14453},{"i":107.3,"v":14387},{"i":111.6,"v":14296},{"i":117,"v":14190},{"i":121.3,"v":14072},{"i":122.9,"v":14020},{"i":127.2,"v":13837},{"i":133.7,"v":13797},{"i":139.6,"v":13668},{"i":146.6,"v":13550},{"i":155.2,"v":13421},{"i":165.4,"v":13028},{"i":174.6,"v":12373},{"i":182.6,"v":12047},{"i":187,"v":12030},{"i":192.4,"v":11902},{"i":197.8,"v":12137},{"i":202,"v":12440},{"i":206.4,"v":12922},{"i":212.4,"v":13314},{"i":216.6,"v":13746},{"i":221.5,"v":14166},{"i":224,"v":14559}],
"ma120":[{"i":-11,"v":4248},{"i":-6,"v":4182},{"i":0,"v":3961},{"i":6,"v":3922},{"i":9,"v":3961},{"i":12,"v":4286},{"i":14,"v":4651},{"i":19,"v":5268},{"i":26.5,"v":6316},{"i":35,"v":7231},{"i":41,"v":7650},{"i":44.5,"v":7949},{"i":58,"v":9193},{"i":60,"v":9389},{"i":66,"v":10044},{"i":74,"v":10830},{"i":79.3,"v":11247},{"i":83,"v":11678},{"i":87,"v":11874},{"i":91,"v":12243},{"i":95.4,"v":12596},{"i":98.6,"v":12856},{"i":103.5,"v":13314},{"i":108.4,"v":13837},{"i":113.8,"v":14296},{"i":118,"v":14688},{"i":122.4,"v":15100},{"i":125,"v":15300},{"i":126.7,"v":15500},{"i":131,"v":15540},{"i":133.7,"v":15383},{"i":139.6,"v":14951},{"i":146.6,"v":14425},{"i":155,"v":14072},{"i":163.8,"v":13797},{"i":174.6,"v":13314},{"i":180,"v":13052},{"i":187.5,"v":12894},{"i":196.7,"v":12894},{"i":202,"v":13012},{"i":208,"v":13314},{"i":214.5,"v":13550},{"i":219.8,"v":13707},{"i":224,"v":13837}],
"vma5":[{"i":0.8,"k":0},{"i":3,"k":330},{"i":5.2,"k":800},{"i":7.4,"k":690},{"i":10,"k":330},{"i":12.3,"k":470},{"i":13.4,"k":2420},{"i":14.8,"k":4220},{"i":17,"k":5360},{"i":18,"k":4780},{"i":18.9,"k":2700},{"i":20.5,"k":2000},{"i":23.2,"k":1300},{"i":25.4,"k":890},{"i":27.6,"k":470},{"i":33,"k":610},{"i":34.2,"k":1530},{"i":38,"k":1640},{"i":38.8,"k":750},{"i":42.9,"k":610},{"i":45.6,"k":890},{"i":48.3,"k":690},{"i":52.7,"k":890},{"i":56,"k":690},{"i":59.8,"k":420},{"i":64.7,"k":330},{"i":66.9,"k":1170},{"i":69,"k":1390},{"i":70.5,"k":1300},{"i":71.7,"k":550},{"i":72.6,"k":275},{"i":79,"k":190},{"i":79.8,"k":416},{"i":85,"k":83},{"i":92,"k":160},{"i":101,"k":190},{"i":109,"k":250},{"i":114,"k":250},{"i":115,"k":120},{"i":135,"k":200},{"i":150,"k":100},{"i":172,"k":60},{"i":177,"k":70},{"i":198,"k":217},{"i":204.7,"k":217},{"i":205,"k":100},{"i":222,"k":120},{"i":223,"k":275},{"i":224,"k":416}],
"vma20":[{"i":3,"k":110},{"i":7.4,"k":280},{"i":11.2,"k":416},{"i":14,"k":1300},{"i":16,"k":1580},{"i":20,"k":1940},{"i":23.8,"k":2050},{"i":26.5,"k":2030},{"i":32.3,"k":2050},{"i":33.6,"k":1640},{"i":35.8,"k":1110},{"i":37.4,"k":1030},{"i":40,"k":890},{"i":43.4,"k":750},{"i":48.3,"k":890},{"i":53.8,"k":940},{"i":56.6,"k":690},{"i":63.7,"k":610},{"i":70.2,"k":750},{"i":73.5,"k":470},{"i":84.7,"k":500},{"i":87.4,"k":275},{"i":97.6,"k":133},{"i":133,"k":190},{"i":139,"k":190},{"i":140,"k":100},{"i":208,"k":190},{"i":212,"k":190},{"i":213,"k":100},{"i":224,"k":125}],
"vma60":[{"i":4.7,"k":140},{"i":9.6,"k":190},{"i":14,"k":470},{"i":18.3,"k":555},{"i":23.2,"k":750},{"i":33,"k":830},{"i":42.9,"k":970},{"i":48.3,"k":1080},{"i":57,"k":1140},{"i":58,"k":1220},{"i":64.7,"k":1220},{"i":65.8,"k":1170},{"i":73,"k":1160},{"i":74.2,"k":830},{"i":75.5,"k":830},{"i":75.8,"k":690},{"i":80,"k":690},{"i":80.3,"k":550},{"i":92.7,"k":550},{"i":94.6,"k":416},{"i":106.5,"k":416},{"i":106.7,"k":300},{"i":119.7,"k":300},{"i":120,"k":190},{"i":165.4,"k":190},{"i":186.7,"k":190},{"i":187,"k":30},{"i":224,"k":40}],
"vma120":[{"i":33.6,"k":190},{"i":40,"k":330},{"i":48,"k":470},{"i":58,"k":555},{"i":73.9,"k":610},{"i":80,"k":633},{"i":113.8,"k":633},{"i":114,"k":750},{"i":122.9,"k":750},{"i":123,"k":610},{"i":133.7,"k":550},{"i":136,"k":416},{"i":150,"k":360},{"i":165.4,"k":333},{"i":165.6,"k":217},{"i":186.7,"k":217},{"i":187,"k":50},{"i":224,"k":60}],
"topText":[{"i":-8.48,"v":30467,"t":"아티스트유나이티드","c":"ink","r":"ko"},{"i":16.72,"v":30467,"t":"종가 단순 5","c":"mag","r":"ko"},{"i":30.89,"v":30467,"t":"10","c":"sky","r":"num"},{"i":34.8,"v":30467,"t":"20","c":"amber","r":"num"},{"i":38.8,"v":30467,"t":"60","c":"grn","r":"num"},{"i":42.9,"v":30467,"t":"120","c":"gray","r":"num"},{"i":-11.39,"v":29642,"t":"최고 29,850 (12/21)","c":"hi","r":"num"},{"i":9.13,"v":22617,"t":"배당락(0.00%)","c":"ink","r":"num"},{"i":4.6,"v":2953,"t":"최저 2,750 (12/04)","c":"lo","r":"num"},{"i":231.4,"v":30467,"t":"LC:572.73","c":"hi","r":"num"},{"i":231.4,"v":29917,"t":"HC:-38.02","c":"ltblue","r":"num"},{"i":233,"v":18530,"t":"18,500","c":"white","r":"num"},{"i":233,"v":17950,"t":"-1.18%","c":"ltblue","r":"num"},{"i":-9.75,"v":29584,"t":"▦","c":"ink","r":"num"}],
"volText":[{"i":-8.48,"k":13690,"t":"거래량","c":"teal","r":"ko"},{"i":0.4,"k":13690,"t":"단순 5","c":"pink","r":"ko"},{"i":9.05,"k":13690,"t":"20","c":"amber","r":"num"},{"i":13,"k":13690,"t":"60","c":"grn","r":"num"},{"i":17.2,"k":13690,"t":"120","c":"gray","r":"num"},{"i":-10.5,"k":12233,"t":"334,167주(34.03%)","c":"ink","r":"num"},{"i":233,"k":1858,"t":"334,167","c":"white","r":"num"},{"i":233,"k":550,"t":"34.03%","c":"ltblue","r":"num"},{"i":242.5,"k":13858,"t":"×","c":"white","r":"num"}],
"months":[{"i":-0.4,"t":"12"},{"i":18.6,"t":"2024/01"},{"i":40.6,"t":"02"},{"i":59.6,"t":"03"},{"i":79.8,"t":"04"},{"i":100.8,"t":"05"},{"i":120.8,"t":"06"},{"i":139.8,"t":"07"},{"i":162.8,"t":"08"},{"i":183.8,"t":"09"},{"i":201.8,"t":"10"},{"i":221.8,"t":"11"},{"i":231.26,"t":"11/05"}]
},
"vconcat":[
{"width":1502,"height":741,
"encoding":{"x":{"field":"i","type":"quantitative","scale":{"domain":[-11.39,231.26],"nice":false,"zero":false,"padding":0},"axis":{"values":[-0.4,18.6,40.6,59.6,79.8,100.8,120.8,139.8,162.8,183.8,201.8,221.8],"labels":false,"ticks":false,"domain":false,"title":null,"grid":true,"gridColor":"#dcdcdc","gridWidth":1.6}}},
"resolve":{"axis":{"y":"independent"}},
"layer":[
{"data":{"name":"ma120"},"mark":{"type":"line","color":"#9a9a9a","strokeWidth":1.3},"encoding":{"y":{"field":"v","type":"quantitative","scale":{"domain":[1813,30900],"nice":false,"zero":false},"axis":{"orient":"right","values":[2500,5000,7500,10000,12500,15000,17500,20000,22500,25000,27500,30000],"labelExpr":"datum.value>=30000?'':format(datum.value,',')","title":null,"domain":false,"tickColor":"#777","tickSize":7,"labelColor":"#444","labelFontSize":14.5,"labelPadding":2,"grid":true,"gridColor":"#dcdcdc","gridWidth":1.6}}}},
{"data":{"name":"ma60"},"mark":{"type":"line","color":"#3cb060","strokeWidth":1.2},"encoding":{"y":{"field":"v","type":"quantitative","axis":{"orient":"right","values":[2000,3000,3500,4000,4500,5500,6000,6500,7000,8000,8500,9000,9500,10500,11000,11500,12000,13000,13500,14000,14500,15500,16000,16500,17000,18000,18500,19000,19500,20500,21000,21500,22000,23000,23500,24000,24500,25500,26000,26500,27000,28000,28500,29000,29500],"labels":false,"title":null,"domain":false,"grid":false,"tickColor":"#888","tickSize":3}}}},
{"data":{"name":"ma20"},"mark":{"type":"line","color":"#f2ab00","strokeWidth":3},"encoding":{"y":{"field":"v","type":"quantitative","axis":null}}},
{"data":{"name":"days"},"mark":{"type":"rule","strokeWidth":1.2},"encoding":{"y":{"field":"h","type":"quantitative","axis":null},"y2":{"field":"l"},"color":{"field":"d","type":"nominal","scale":{"domain":["up","down","hi","lo","mag","sky","amber","grn","gray","ink","teal","pink","white","ltblue"],"range":["#ee1c0e","#1560d0","#ff2a2a","#1f1fff","#ff3ce6","#5f8fe8","#f2b01e","#2fae5b","#8c8c8c","#4a4a4a","#3f9aa0","#e840c0","#ffffff","#3f7fe0"]},"legend":null}}},
{"data":{"name":"days"},"mark":{"type":"bar","size":4,"orient":"vertical"},"encoding":{"y":{"field":"o","type":"quantitative","axis":null},"y2":{"field":"c"},"color":{"field":"d","type":"nominal","legend":null}}},
{"data":{"name":"ma10"},"mark":{"type":"line","color":"#6a94f2","strokeWidth":1.1},"encoding":{"y":{"field":"v","type":"quantitative","axis":null}}},
{"data":{"name":"ma5"},"mark":{"type":"line","color":"#ff2cf0","strokeWidth":1.1},"encoding":{"y":{"field":"v","type":"quantitative","axis":null}}},
{"data":{"values":[{"i":-9.29,"i2":13.49,"v":30781,"v2":30114}]},"mark":{"type":"rect","fill":"#dddddd","stroke":"#bbbbbb"},"encoding":{"x2":{"field":"i2"},"y":{"field":"v","type":"quantitative","axis":null},"y2":{"field":"v2"}}},
{"data":{"values":[{"i":232.1,"i2":243.9,"v":18837,"v2":18221}]},"mark":{"type":"rect","fill":"#1560d0"},"encoding":{"x2":{"field":"i2"},"y":{"field":"v","type":"quantitative","axis":null},"y2":{"field":"v2"}}},
{"data":{"values":[{"i":10.9,"i2":12.9,"v":29642}]},"mark":{"type":"rule","color":"#ff1a1a","strokeWidth":1.5},"encoding":{"x2":{"field":"i2"},"y":{"field":"v","type":"quantitative","axis":null}}},
{"data":{"values":[{"i":16.96,"v":22300,"v2":21500}]},"mark":{"type":"rule","color":"#ff1a1a","strokeWidth":1.5},"encoding":{"y":{"field":"v","type":"quantitative","axis":null},"y2":{"field":"v2"}}},
{"data":{"values":[{"i":2.3,"i2":4.44,"v":2920}]},"mark":{"type":"rule","color":"#1f1fff","strokeWidth":1.5},"encoding":{"x2":{"field":"i2"},"y":{"field":"v","type":"quantitative","axis":null}}},
{"data":{"values":[{"i":13.2,"v":29642}]},"mark":{"type":"point","shape":"triangle-right","filled":true,"color":"#ff1a1a","size":70,"opacity":1},"encoding":{"y":{"field":"v","type":"quantitative","axis":null}}},
{"data":{"values":[{"i":16.96,"v":21400}]},"mark":{"type":"point","shape":"triangle-down","filled":true,"color":"#ff1a1a","size":110,"opacity":1},"encoding":{"y":{"field":"v","type":"quantitative","axis":null}}},
{"data":{"values":[{"i":2.1,"v":2920}]},"mark":{"type":"point","shape":"triangle-left","filled":true,"color":"#1f1fff","size":100,"opacity":1},"encoding":{"y":{"field":"v","type":"quantitative","axis":null}}},
{"data":{"values":[{"i":-10.26,"v":30467},{"i":14.72,"v":30467}]},"mark":{"type":"point","shape":"square","filled":true,"fill":"#aaaaaa","stroke":"#888888","strokeWidth":1,"size":28,"opacity":1},"encoding":{"y":{"field":"v","type":"quantitative","axis":null}}},
{"data":{"values":[{"i":-9.05,"v":29584}]},"mark":{"type":"point","shape":"square","filled":true,"fill":"#c4c4c4","stroke":"#333333","strokeWidth":1.2,"size":230,"opacity":1},"encoding":{"y":{"field":"v","type":"quantitative","axis":null}}},
{"data":{"name":"topText"},"mark":{"type":"text","align":"left","baseline":"middle"},"encoding":{"y":{"field":"v","type":"quantitative","axis":null},"text":{"field":"t"},"size":{"field":"r","type":"nominal","scale":{"domain":["ko","num"],"range":[16,14.5]},"legend":null},"color":{"field":"c","type":"nominal","legend":null}}},
{"mark":{"type":"rule","color":"#a3a3a3","strokeWidth":1.5},"encoding":{"x":{"datum":244.3}}},
{"mark":{"type":"rule","color":"#a3a3a3","strokeWidth":1.5},"encoding":{"x":{"datum":231.26},"x2":{"datum":244.3},"y":{"datum":30900,"axis":null}}}
]},
{"width":1502,"height":178,"data":{"name":"days"},
"encoding":{"x":{"field":"i","type":"quantitative","scale":{"domain":[-11.39,231.26],"nice":false,"zero":false,"padding":0},"axis":{"values":[-0.4,18.6,40.6,59.6,79.8,100.8,120.8,139.8,162.8,183.8,201.8,221.8],"labels":false,"ticks":false,"domain":false,"title":null,"grid":true,"gridColor":"#dcdcdc","gridWidth":1.6}}},
"resolve":{"axis":{"y":"independent"}},
"layer":[
{"mark":{"type":"bar","size":4,"orient":"vertical"},"encoding":{"y":{"field":"k","type":"quantitative","stack":null,"scale":{"domain":[-225,14608],"nice":false,"zero":false},"axis":{"orient":"right","values":[2500,5000,7500,10000,12500],"labelExpr":"format(datum.value,',')+'K'","title":null,"domain":false,"tickColor":"#777","tickSize":7,"labelColor":"#444","labelFontSize":14.5,"labelPadding":2,"grid":true,"gridColor":"#dcdcdc","gridWidth":1.6}},"y2":{"datum":-90},"color":{"field":"vd","type":"nominal","scale":{"domain":["up","down","hi","lo","mag","sky","amber","grn","gray","ink","teal","pink","white","ltblue"],"range":["#ee1c0e","#1560d0","#ff2a2a","#1f1fff","#ff3ce6","#5f8fe8","#f2b01e","#2fae5b","#8c8c8c","#4a4a4a","#3f9aa0","#e840c0","#ffffff","#3f7fe0"]},"legend":null}}},
{"data":{"name":"vma120"},"mark":{"type":"line","color":"#9a9a9a","strokeWidth":1.6},"encoding":{"y":{"field":"k","type":"quantitative","axis":{"orient":"right","values":[0,1250,3750,6250,8750,11250,13750],"labels":false,"title":null,"domain":false,"grid":false,"tickColor":"#888","tickSize":3}}}},
{"data":{"name":"vma60"},"mark":{"type":"line","color":"#34a95a","strokeWidth":1.6},"encoding":{"y":{"field":"k","type":"quantitative","axis":null}}},
{"data":{"name":"vma20"},"mark":{"type":"line","color":"#f2b41e","strokeWidth":1.5},"encoding":{"y":{"field":"k","type":"quantitative","axis":null}}},
{"data":{"name":"vma5"},"mark":{"type":"line","color":"#e83cc8","strokeWidth":1.2},"encoding":{"y":{"field":"k","type":"quantitative","axis":null}}},
{"data":{"values":[{"i":232.1,"i2":243.9,"k":2500,"k2":1192}]},"mark":{"type":"rect","fill":"#1560d0"},"encoding":{"x2":{"field":"i2"},"y":{"field":"k","type":"quantitative","axis":null},"y2":{"field":"k2"}}},
{"data":{"values":[{"i":-10.26,"k":13690}]},"mark":{"type":"point","shape":"square","filled":true,"fill":"#aaaaaa","stroke":"#888888","strokeWidth":1,"size":28,"opacity":1},"encoding":{"y":{"field":"k","type":"quantitative","axis":null}}},
{"data":{"values":[{"i":243,"k":13858}]},"mark":{"type":"point","shape":"square","filled":true,"fill":"#444444","size":60,"opacity":1},"encoding":{"y":{"field":"k","type":"quantitative","axis":null}}},
{"data":{"name":"volText"},"mark":{"type":"text","align":"left","baseline":"middle"},"encoding":{"y":{"field":"k","type":"quantitative","axis":null},"text":{"field":"t"},"size":{"field":"r","type":"nominal","scale":{"domain":["ko","num"],"range":[16,14.5]},"legend":null},"color":{"field":"c","type":"nominal","legend":null}}},
{"mark":{"type":"rule","color":"#a3a3a3","strokeWidth":1.5},"encoding":{"x":{"datum":244.3}}},
{"mark":{"type":"rule","color":"#a3a3a3","strokeWidth":1.5},"encoding":{"x":{"datum":231.26},"x2":{"datum":244.3},"y":{"datum":14608,"axis":null}}}
]},
{"width":1588,"height":24,"view":{"fill":"#d6e2f0","stroke":"#a3a3a3"},"data":{"name":"months"},
"encoding":{"x":{"field":"i","type":"quantitative","scale":{"domain":[-11.39,245.15],"nice":false,"zero":false},"axis":null}},
"layer":[
{"mark":{"type":"rule","color":"#8f8f8f","strokeWidth":1.5},"encoding":{}},
{"mark":{"type":"text","align":"left","baseline":"middle","dx":3,"dy":-1,"fontSize":14.5,"color":"#444444"},"encoding":{"text":{"field":"t"}}},
{"data":{"values":[{"i":-11.39,"t":"2023/11"}]},"mark":{"type":"text","align":"left","baseline":"middle","dx":2,"dy":-1,"fontSize":14.5,"color":"#444444"},"encoding":{"text":{"field":"t"}}}
]}
]}
